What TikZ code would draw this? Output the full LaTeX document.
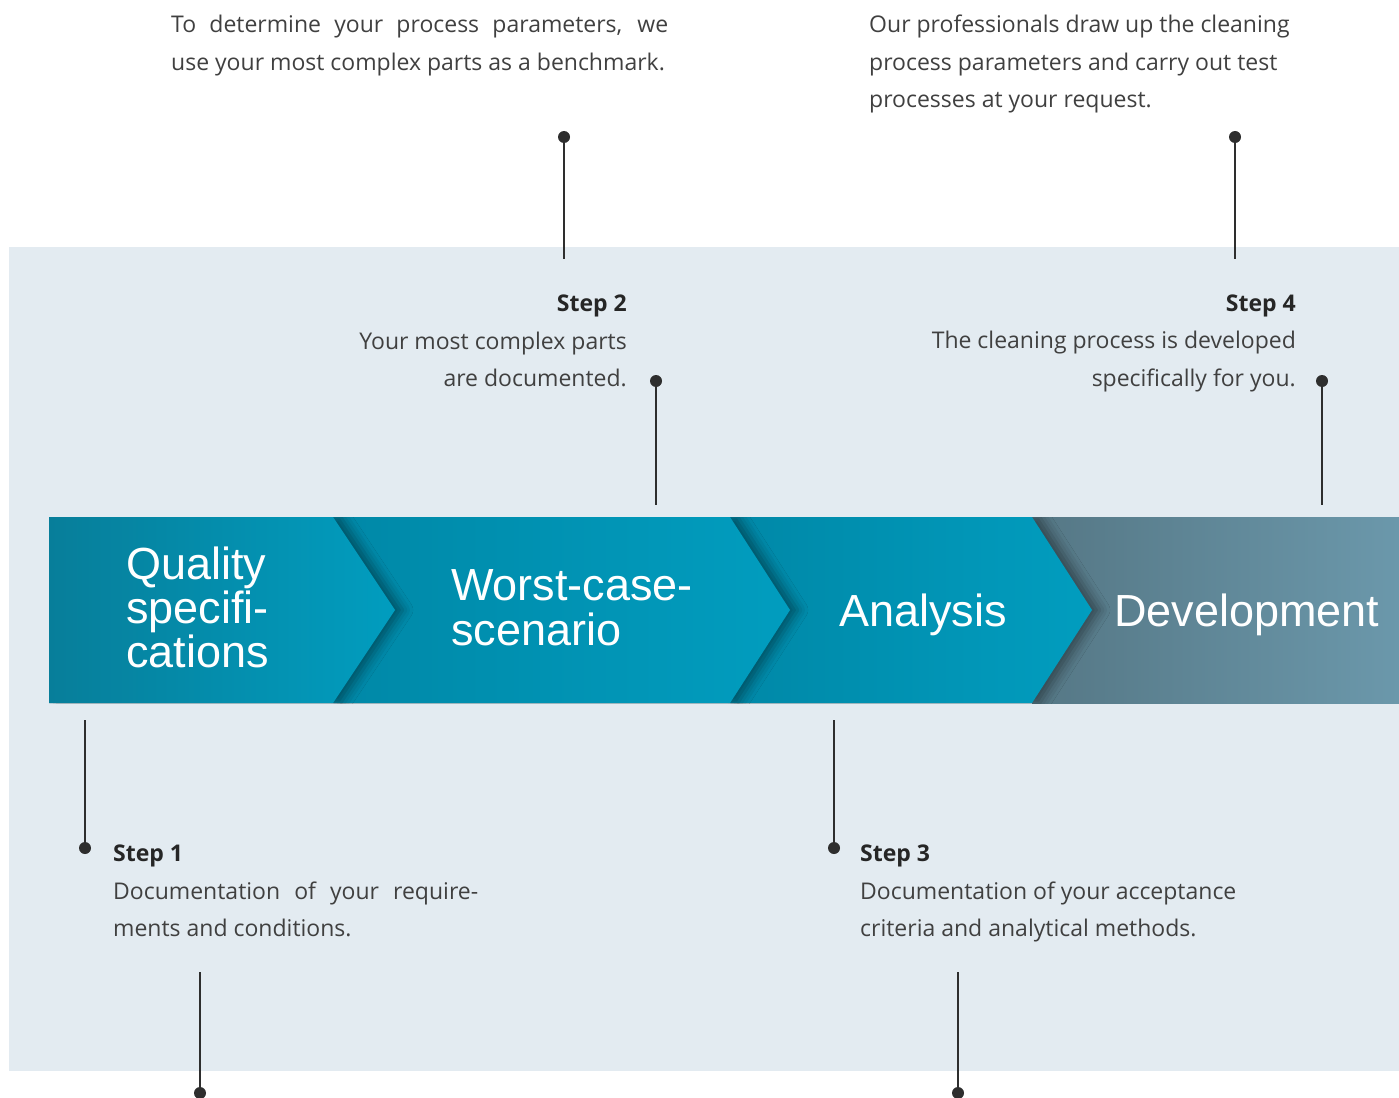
\documentclass[tikz,border=0pt]{standalone}
\usepackage{fontspec}
\setmainfont{Open Sans}
\newfontfamily\arrowfont{Liberation Sans}
\usetikzlibrary{shadows.blur}
\definecolor{bgblue}{HTML}{E3EBF1}
\definecolor{txtgray}{HTML}{404040}
\definecolor{headgray}{HTML}{262626}
\definecolor{linegray}{HTML}{2E2E2E}
\definecolor{tealdark}{HTML}{077E9A}
\definecolor{teallight}{HTML}{019DBF}
\definecolor{tealmid}{HTML}{0088A7}
\definecolor{slatedark}{HTML}{557785}
\definecolor{slatelight}{HTML}{6B98AB}
\tikzset{
  body/.style={inner sep=0pt, text=txtgray, font=\fontsize{23}{37.5}\selectfont},
  head/.style={inner sep=0pt, text=headgray, font=\fontsize{23}{37.5}\selectfont\bfseries},
  bandtxt/.style={inner sep=0pt, text=white, anchor=base west, font=\arrowfont\fontsize{45}{44}\selectfont},
  conn/.style={draw=linegray, line width=1.3pt},
  dotmark/.style={circle, fill=linegray, inner sep=0pt, minimum size=12pt},
  segshadow/.style={blur shadow={shadow xshift=8pt, shadow yshift=0pt, shadow blur radius=10pt, shadow opacity=40}}
}
\begin{document}
\begin{tikzpicture}[x=1pt,y=-1pt]
\useasboundingbox (0,0) rectangle (1399,1097);
% background panel
\fill[bgblue] (9,247) rectangle (1399,1071);

% band segments (right to left so each chevron lies over the next)
\begin{scope}
\clip (49,517) rectangle (1399,703);
\path[left color=slatedark, right color=slatelight] (1032,517) rectangle (1399,703);
\path[segshadow, left color=tealmid, right color=teallight]
  (730,517) -- (1032,517) -- (1092,610) -- (1032,703) -- (730,703) -- cycle;
\path[segshadow, left color=tealmid, right color=teallight]
  (333,517) -- (730,517) -- (790,610) -- (730,703) -- (333,703) -- cycle;
\path[segshadow, left color=tealdark, right color=teallight]
  (49,517) -- (333,517) -- (395,610) -- (333,703) -- (49,703) -- cycle;
\end{scope}

% band labels
\node[bandtxt] (q1) at (126,579) {Quality};
\node[bandtxt] (q2) at (126,623) {specifi-};
\node[bandtxt] (q3) at (126,667) {cations};
\node[bandtxt] (w1) at (451,600) {Worst-case-};
\node[bandtxt] (w2) at (451,645) {scenario};
\node[bandtxt] (an) at (839,626) {Analysis};
\node[bandtxt] (dv) at (1114,626) {Development};

% top-left paragraph
\node[body, anchor=base west] (tl1) at (171,33) {\makebox[497pt][s]{To determine your process parameters, we}};
\node[body, anchor=base west] (tl2) at (171,70.5) {use your most complex parts as a benchmark.};
% top-right paragraph
\node[body, anchor=base west] (tr1) at (869,33) {Our professionals draw up the cleaning};
\node[body, anchor=base west] (tr2) at (869,70.5) {process parameters and carry out test};
\node[body, anchor=base west] (tr3) at (869,108) {processes at your request.};

% step 2
\node[head, anchor=base east] (s2h) at (627,311.5) {Step 2};
\node[body, anchor=base east] (s2a) at (627,349) {Your most complex parts};
\node[body, anchor=base east] (s2b) at (627,386.5) {are documented.};
% step 4
\node[head, anchor=base east] (s4h) at (1296,311) {Step 4};
\node[body, anchor=base east] (s4a) at (1296,348.5) {The cleaning process is developed};
\node[body, anchor=base east] (s4b) at (1296,386) {specifically for you.};

% step 1
\node[head, anchor=base west] (s1h) at (113,861.5) {Step 1};
\node[body, anchor=base west] (s1a) at (113,899) {\makebox[365pt][s]{Documentation of your require-}};
\node[body, anchor=base west] (s1b) at (113,936.5) {ments and conditions.};
% step 3
\node[head, anchor=base west] (s3h) at (860,861.5) {Step 3};
\node[body, anchor=base west] (s3a) at (860,899) {Documentation of your acceptance};
\node[body, anchor=base west] (s3b) at (860,936.5) {criteria and analytical methods.};

% connectors with dots
\node[dotmark] (d1) at (564,137) {};
\coordinate (e1) at (564,259);
\draw[conn] (d1.center) -- (e1);
\node[dotmark] (d2) at (1235,137) {};
\coordinate (e2) at (1235,259);
\draw[conn] (d2.center) -- (e2);
\node[dotmark] (d3) at (656,381) {};
\coordinate (e3) at (656,505);
\draw[conn] (d3.center) -- (e3);
\node[dotmark] (d4) at (1322,381) {};
\coordinate (e4) at (1322,505);
\draw[conn] (d4.center) -- (e4);
\node[dotmark] (d5) at (85,848) {};
\coordinate (e5) at (85,720);
\draw[conn] (e5) -- (d5.center);
\node[dotmark] (d6) at (834,848) {};
\coordinate (e6) at (834,720);
\draw[conn] (e6) -- (d6.center);
\node[dotmark] (d7) at (200,1093) {};
\coordinate (e7) at (200,972);
\draw[conn] (e7) -- (d7.center);
\node[dotmark] (d8) at (958,1093) {};
\coordinate (e8) at (958,972);
\draw[conn] (e8) -- (d8.center);
\end{tikzpicture}
\end{document}
